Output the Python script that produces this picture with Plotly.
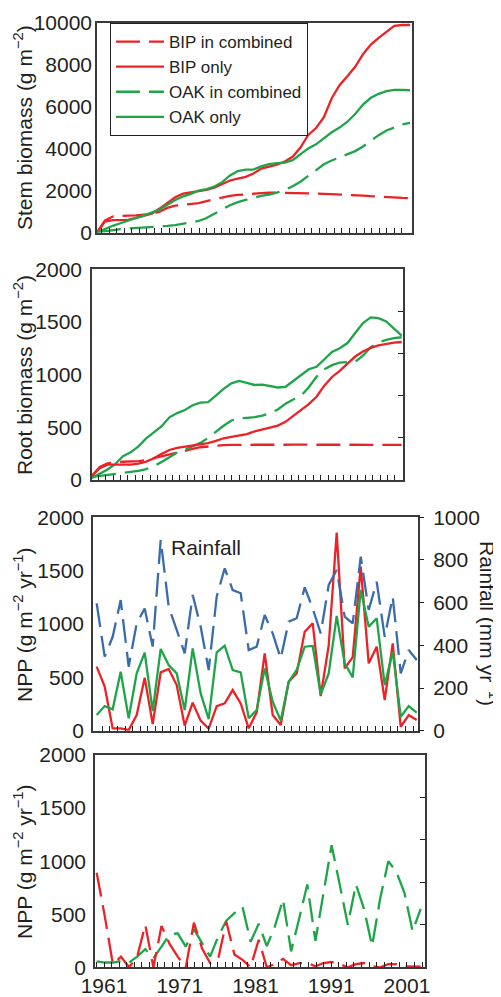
import plotly.graph_objects as go

# ---------------- data ----------------
years = list(range(1961, 2002))

stem_bip_comb = [0, 560, 760, 795, 805, 815, 840, 890, 990, 1170,
                 1280, 1310, 1340, 1400, 1500, 1590, 1690, 1745, 1790, 1830,
                 1860, 1880, 1900, 1900, 1900, 1890, 1880, 1865, 1855, 1845,
                 1830, 1810, 1795, 1780, 1760, 1730, 1705, 1685, 1660, 1650, 1640]
stem_bip_only = [0, 520, 590, 590, 600, 700, 790, 900, 1140, 1400,
                 1680, 1850, 1920, 1970, 2030, 2140, 2310, 2480, 2570, 2650,
                 2810, 3050, 3140, 3230, 3380, 3610, 4050, 4650, 4980, 5500,
                 6400, 7020, 7450, 7900, 8500, 8960, 9280, 9560, 9850, 9890, 9890]
stem_oak_comb = [0, 60, 125, 165, 195, 215, 235, 255, 280, 315,
                 355, 410, 470, 550, 690, 880, 1100, 1300, 1450, 1550,
                 1650, 1750, 1810, 1900, 2030, 2200, 2420, 2700, 3000, 3250,
                 3430, 3580, 3720, 3880, 4100, 4380, 4640, 4860, 5000, 5150, 5230]
stem_oak_only = [0, 160, 320, 440, 580, 690, 820, 950, 1090, 1320,
                 1550, 1720, 1840, 2000, 2070, 2190, 2400, 2720, 2930, 3000,
                 3000, 3150, 3260, 3310, 3330, 3450, 3730, 4010, 4200, 4480,
                 4780, 5000, 5280, 5650, 6100, 6420, 6610, 6740, 6800, 6800, 6780]

root_bip_comb = [40, 125, 157, 170, 173, 176, 180, 190, 208, 229,
                 248, 263, 279, 295, 311, 320, 327, 331, 334, 335,
                 335, 336, 336, 336, 336, 336, 335, 335, 335, 335,
                 335, 335, 335, 334, 334, 334, 334, 334, 334, 334, 334]
root_bip_only = [40, 112, 146, 149, 145, 146, 155, 174, 206, 248,
                 285, 305, 316, 326, 337, 351, 371, 396, 409, 420,
                 435, 461, 482, 497, 516, 552, 608, 668, 720, 790,
                 895, 978, 1036, 1105, 1172, 1220, 1254, 1277, 1294, 1305, 1310]
root_oak_comb = [30, 40, 51, 60, 68, 76, 86, 104, 132, 172,
                 220, 260, 288, 320, 352, 400, 460, 515, 565, 585,
                 590, 596, 612, 634, 670, 725, 765, 800, 880, 980,
                 1050, 1090, 1115, 1120, 1122, 1180, 1260, 1305, 1330, 1346, 1355]
root_oak_only = [20, 60, 100, 150, 225, 262, 320, 395, 450, 510,
                 595, 635, 665, 710, 735, 740, 800, 865, 918, 940,
                 921, 902, 905, 895, 878, 885, 940, 990, 1051, 1075,
                 1150, 1215, 1250, 1300, 1395, 1490, 1544, 1536, 1505, 1440, 1370]

npp_bip_only = [600, 413, 22, 22, 6, 147, 497, 62, 547, 578,
                428, 47, 262, 94, 19, 231, 256, 381, 256, 22,
                172, 725, 147, 53, 459, 537, 928, 1006, 325, 800,
                1856, 584, 690, 1537, 631, 787, 287, 819, 37, 147, 100]
npp_oak_only = [147, 231, 200, 553, 116, 537, 731, 184, 766, 616,
                537, 194, 772, 350, 109, 734, 797, 569, 547, 116,
                194, 584, 272, 94, 459, 569, 787, 794, 341, 537,
                1075, 631, 500, 1319, 975, 1053, 428, 741, 131, 231, 169]
rainfall = [597, 347, 440, 612, 300, 503, 573, 394, 894, 581,
            472, 362, 636, 487, 284, 628, 761, 659, 644, 378,
            394, 542, 456, 339, 511, 527, 672, 573, 456, 683,
            753, 534, 503, 816, 566, 698, 440, 628, 269, 378, 331]

npp_bip_comb = [890, 480, 30, 100, 0, 100, 400, 0, 390, 220,
                100, 0, 420, 180, 40, 80, 430, 120, 70, 0,
                260, 0, 30, 80, 20, 40, 40, 10, 40, 50,
                30, 0, 30, 40, 10, 0, 30, 30, 10, 5, 5]
npp_oak_comb = [55, 45, 45, 60, 45, 100, 170, 85, 195, 310,
                320, 195, 360, 230, 100, 290, 440, 510, 570, 240,
                410, 200, 385, 640, 150, 460, 780, 250, 700, 1150,
                780, 400, 780, 550, 200, 650, 1000, 900, 700, 340, 550]

x_label_years = [1961, 1971, 1981, 1991, 2001]
series_names = ["BIP in combined", "BIP only", "OAK in combined", "OAK only"]

# ---------------- style ----------------
OFF = 8                 # page body margin of the html page
W, H = 501 - OFF, 997 - OFF
RED = "#EC2227"
GREEN = "#1EA548"
BLUE = "#3A6CA9"
INK = "#231F20"
FRAME = "#3a3a3a"
FONT = "Liberation Sans, Arial, Helvetica, sans-serif"
DASH = "24px,9px"
LW = 2.3


def px_x(p):
    return (p - OFF) / W


def px_y(p):
    return 1 - (p - OFF) / H


# panel frames in window pixels: (left, right, top, bottom)
frames = [(97, 412, 22.7, 232.5), (92, 403, 269.3, 480), (93, 418, 517.3, 730.7), (95, 425, 755, 967.3)]
data_ranges = [[1961, 2001.26], [1961, 2001.17], [1960.54, 2001.16], [1960.79, 2001.53]]
tick_ranges = [[1960.37, 2002.37], [1960.15, 2002.08], [1959.77, 2002.65], [1959.81, 2003.38]]
tick_sets = [list(range(1961, 2002)), list(range(1961, 2002)), list(range(1961, 2003)), None]
ylab_standoff = [-1, 4, 3, 3]

fig = go.Figure()


def line(x, y, color, dash, name, xa, ya, legend=False):
    fig.add_trace(go.Scatter(x=x, y=y, mode="lines", name=name, showlegend=legend,
                             line=dict(color=color, width=LW, dash=dash),
                             xaxis=xa, yaxis=ya, hoverinfo="skip"))


# panel 1
line(years, stem_bip_comb, RED, DASH, series_names[0], "x", "y", True)
line(years, stem_bip_only, RED, "solid", series_names[1], "x", "y", True)
line(years, stem_oak_comb, GREEN, DASH, series_names[2], "x", "y", True)
line(years, stem_oak_only, GREEN, "solid", series_names[3], "x", "y", True)
# panel 2
line(years, root_bip_comb, RED, DASH, series_names[0], "x2", "y2")
line(years, root_oak_comb, GREEN, DASH, series_names[2], "x2", "y2")
line(years, root_oak_only, GREEN, "solid", series_names[3], "x2", "y2")
line(years, root_bip_only, RED, "solid", series_names[1], "x2", "y2")
# panel 3
line(years, rainfall, BLUE, DASH, "Rainfall", "x3", "y5")
line(years, npp_bip_only, RED, "solid", series_names[1], "x3", "y3")
line(years, npp_oak_only, GREEN, "solid", series_names[3], "x3", "y3")
# panel 4
line(years, npp_oak_comb, GREEN, DASH, series_names[2], "x4", "y4")
line(years, npp_bip_comb, RED, DASH, series_names[0], "x4", "y4")

# empty traces so overlay tick axes get a subplot
for xa, ya in [("x5", "y"), ("x6", "y2"), ("x7", "y3"), ("x8", "y4"), ("x2", "y6"), ("x4", "y7")]:
    fig.add_trace(go.Scatter(x=[], y=[], xaxis=xa, yaxis=ya, showlegend=False, hoverinfo="skip"))

tickfont = dict(family=FONT, size=21, color=INK)
layout = dict(
    width=W, height=H, margin=dict(l=0, r=0, t=0, b=0),
    paper_bgcolor="white", plot_bgcolor="white",
    font=dict(family=FONT, color=INK),
    showlegend=True,
    legend=dict(x=px_x(110), y=px_y(23), xanchor="left", yanchor="top",
                bgcolor="white", bordercolor=INK, borderwidth=1,
                font=dict(family=FONT, size=17, color=INK),
                itemwidth=48, tracegroupgap=0),
)

yranges = [[0, 10000], [0, 2000], [0, 2000], [0, 2000]]
ydticks = [2000, 500, 500, 500]
for i in range(4):
    k = "" if i == 0 else str(i + 1)
    l, r, t, b = frames[i]
    layout["xaxis" + k] = dict(domain=[px_x(l), px_x(r)], range=data_ranges[i], anchor="y" + k,
                               showgrid=False, zeroline=False, showticklabels=False, ticks="",
                               showline=True, linecolor=FRAME, linewidth=1.5, mirror=True,
                               fixedrange=True, automargin=False)
    layout["yaxis" + k] = dict(domain=[px_y(b), px_y(t)], range=yranges[i], anchor="x" + k,
                               dtick=ydticks[i], tickformat="d", showgrid=False, zeroline=False, ticks="",
                               showline=True, linecolor=FRAME, linewidth=1.5, mirror=True,
                               tickfont=tickfont, ticklabelstandoff=ylab_standoff[i],
                               fixedrange=True, automargin=False)
    tk = str(i + 5)
    ax = dict(overlaying="x" + ("" if i == 0 else str(i + 1)), anchor="y" + k,
              range=tick_ranges[i], showgrid=False, zeroline=False, showline=False,
              ticks="inside", ticklen=5, tickwidth=1, tickcolor=INK,
              fixedrange=True, automargin=False)
    if tick_sets[i] is not None:
        ax.update(tickvals=tick_sets[i], showticklabels=False)
    else:
        ax.update(tickvals=x_label_years, showticklabels=True, tickfont=tickfont,
                  ticklabelstandoff=4,
                  minor=dict(dtick=1, tick0=1961, ticks="inside", ticklen=5, tickcolor=INK, tickwidth=1))
    layout["xaxis" + tk] = ax

# rainfall axis (panel 3 right)
layout["yaxis5"] = dict(overlaying="y3", side="right", anchor="x3", range=[0, 1000], dtick=200,
                        showgrid=False, zeroline=False, showline=False, ticks="outside", ticklen=5,
                        tickcolor=INK, tickfont=tickfont, ticklabelstandoff=5,
                        fixedrange=True, automargin=False)
# right-side inner ticks on panels 2 and 4
for key, base, xa in [("yaxis6", "y2", "x2"), ("yaxis7", "y4", "x4")]:
    layout[key] = dict(overlaying=base, side="right", anchor=xa, range=[0, 2000],
                       tickvals=[400, 800, 1200, 1600], showticklabels=False,
                       showgrid=False, zeroline=False, showline=False, ticks="inside", ticklen=5,
                       tickcolor=INK, fixedrange=True, automargin=False)

fig.update_layout(**layout)

title_font = dict(family=FONT, size=21, color=INK)
ann = [
    ("Stem biomass (g m<sup>−2</sup>)", 23, 128, -90),
    ("Root biomass (g m<sup>−2</sup>)", 23, 375, -90),
    ("NPP (g m<sup>−2</sup> yr<sup>−1</sup>)", 23, 625, -90),
    ("NPP (g m<sup>−2</sup> yr<sup>−1</sup>)", 23, 862, -90),
    ("Rainfall (mm yr<sup>−1</sup>)", 489, 623, 90),
]
for text, xp, yp, ang in ann:
    fig.add_annotation(text=text, x=px_x(xp), y=px_y(yp), xref="paper", yref="paper",
                       showarrow=False, textangle=ang, font=title_font,
                       xanchor="center", yanchor="middle")
fig.add_annotation(text="Rainfall", x=px_x(169), y=px_y(547), xref="paper", yref="paper",
                   showarrow=False, font=title_font, xanchor="left", yanchor="middle")

fig.write_html("out.html")
